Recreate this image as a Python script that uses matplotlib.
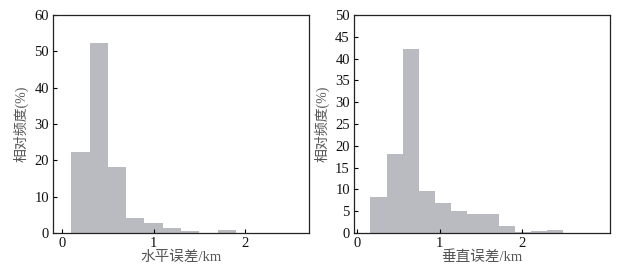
import matplotlib.pyplot as plt
import numpy as np

# 水平误差直方图 (左)
h_edges = [0.1, 0.3, 0.5, 0.7, 0.9, 1.1, 1.3, 1.5, 1.7, 1.9]
h_freq = [22.2, 52.4, 18.2, 4.0, 2.7, 1.3, 0.45, 0.0, 0.7]

# 垂直误差直方图 (右)
v_edges = [0.16, 0.355, 0.55, 0.745, 0.94, 1.135, 1.33, 1.525, 1.72, 1.915, 2.11, 2.305, 2.5]
v_freq = [8.2, 18.2, 42.3, 9.6, 6.8, 5.0, 4.3, 4.3, 1.5, 0.3, 0.5, 0.8]

fonts = ['Liberation Serif', 'Noto Sans CJK SC']
bar_color = '#babbc0'
text_color = '#111111'
label_color = '#555555'

fig = plt.figure(figsize=(6.35, 2.73), dpi=100)
ax1 = fig.add_axes([0.0835, 0.1465, 0.403, 0.7985])
ax2 = fig.add_axes([0.5575, 0.1465, 0.403, 0.7985])


def draw(ax, edges, freq, xlim, ylim, yticks, xlabel):
    edges = np.array(edges)
    ax.bar(edges[:-1], freq, width=np.diff(edges), align='edge',
           color=bar_color, linewidth=0)
    ax.set_xlim(*xlim)
    ax.set_ylim(*ylim)
    ax.set_xticks([0, 1, 2])
    ax.set_yticks(yticks)
    ax.tick_params(direction='in', length=3, width=0.8, labelsize=10.5,
                   labelcolor=text_color, pad=3)
    for lab in ax.get_xticklabels() + ax.get_yticklabels():
        lab.set_family(fonts)
    ax.set_xlabel(xlabel, fontsize=10.5, family=fonts, color=label_color, labelpad=0)
    ax.set_ylabel('相对频度(%)', fontsize=10, family=fonts, color=label_color, labelpad=4)
    for s in ax.spines.values():
        s.set_linewidth(0.9)
        s.set_color('#222222')


draw(ax1, h_edges, h_freq, (-0.1, 2.7), (0, 60), range(0, 61, 10), '水平误差/km')
draw(ax2, v_edges, v_freq, (-0.04, 3.07), (0, 50), range(0, 51, 5), '垂直误差/km')

fig.savefig('out.png', dpi=100)
